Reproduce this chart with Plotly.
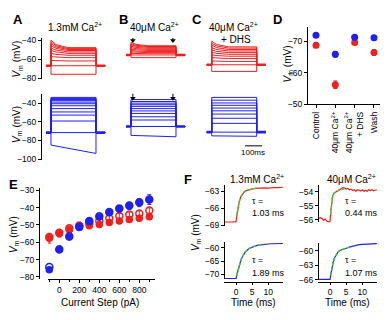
import plotly.graph_objects as go

W, H = 390, 320
RED = "#ee2020"
BLUE = "#2020ee"
GREEN = "#4cc83c"
FONT = "Liberation Sans, Arial, sans-serif"

# ---------------- Panels A-C : voltage responses (mV) to current steps ----------------
A_RED_HOLD = -67.0
A_RED_PEAK = [-76, -67, -61.5, -57.5, -54.0, -51.0, -48.5, -46.0, -44.0, -42.0, -40.0]
A_RED_MID = [-76, -67, -61.8, -58.0, -55.0, -52.5, -50.5, -48.8, -47.3, -46.0, -44.8]
A_RED_END = [-76, -67, -62.0, -58.5, -56.0, -54.0, -52.5, -51.0, -50.0, -49.0, -48.0]

B_RED_HOLD = -55.7
B_RED_PEAK = [-58.5, -55.7, -54.0, -52.5, -51.0, -49.5, -48.0, -46.5, -45.0, -44.0, -42.5]
B_RED_MID = [-58.5, -55.7, -54.2, -52.9, -51.6, -50.3, -49.0, -47.8, -46.6, -45.6, -44.6]
B_RED_END = [-58.5, -55.7, -54.4, -53.2, -52.0, -50.9, -49.8, -48.7, -47.7, -46.8, -46.0]

C_RED_HOLD = -66.0
C_RED_PEAK = [-73, -66, -62.0, -58.5, -55.5, -53.0, -50.5, -48.0, -45.5, -43.5, -41.3]
C_RED_MID = [-73, -66, -62.2, -59.0, -56.3, -54.0, -52.0, -50.0, -48.0, -46.2, -44.7]
C_RED_END = [-73, -66, -62.5, -59.5, -57.0, -55.0, -53.2, -51.5, -50.0, -48.5, -47.2]

A_BLUE_HOLD = -71.5
A_BLUE_ON = [-85, -71.5, -59.0, -52.6, -49.2, -45.6, -42.5, -40.3, -38.6, -37.0, -35.8, -34.6, -33.5]
A_BLUE_END = [-94, -71.5, -59.0, -52.6, -49.2, -45.6, -42.5, -40.3, -38.6, -37.0, -35.8, -34.6, -33.5]

B_BLUE_HOLD = -64.9
B_BLUE_ON = [-74.5, -64.9, -57.9, -54.4, -50.8, -48.1, -45.6, -43.2, -41.4, -39.7, -37.9, -35.8]
B_BLUE_END = [-76.0, -64.9, -57.9, -54.4, -50.8, -48.1, -45.6, -43.2, -41.4, -39.7, -37.9, -35.8]

C_BLUE_HOLD = -71.0
C_BLUE_ON = [-75.0, -71.0, -61.5, -56.0, -51.5, -48.0, -45.0, -42.0, -39.5, -36.5, -33.5]
C_BLUE_END = [-75.5, -71.0, -61.5, -56.0, -51.5, -48.0, -45.0, -42.0, -39.5, -36.5, -33.5]

T_ON, T_MID, T_SETTLE, T_OFF, T_END = 30, 60, 130, 295, 350  # protocol times (ms)

# ---------------- Panel D ----------------
D_LABELS = ["Control", "40μm Ca<sup>2+</sup>", "40μm Ca<sup>2+</sup><br>+ DHS", "Wash"]
D_BLUE = [-71.8, -65.8, -71.2, -71.0]
D_BLUE_ERR = [0.4, 0.9, 0.4, 0.4]
D_RED = [-68.7, -56.2, -69.5, -66.4]
D_RED_ERR = [0.8, 1.2, 0.5, 0.9]

# ---------------- Panel E ----------------
E_CURRENT = [-100, 0, 100, 200, 300, 400, 500, 600, 700, 800, 900]
E_BLUE = [-75.9, -64.3, -57.0, -51.5, -48.1, -45.4, -42.8, -40.7, -39.0, -37.2, -35.4]
E_BLUE_ERR = [1.2, 0.8, 1.0, 1.2, 1.3, 1.4, 1.5, 1.7, 2.0, 2.3, 2.8]
E_BLUE_OPEN = [-74.2, -64.0, -56.5, -51.0, -47.8, -45.0, -42.5, -40.5, -38.8, -37.0, -35.3]
E_RED = [-57.7, -55.0, -52.8, -51.0, -50.5, -49.8, -48.6, -47.7, -46.9, -46.1, -45.3]
E_RED_ERR = [2.8, 2.0, 1.8, 1.6, 1.5, 1.5, 1.5, 1.5, 1.5, 1.6, 1.6]
E_RED_OPEN = [-57.0, -54.5, -52.0, -50.3, -49.0, -47.7, -46.2, -44.9, -44.0, -43.4, -41.7]
E_RED_OPEN_ERR = [1.5, 1.5, 1.4, 1.4, 1.4, 1.4, 1.4, 1.4, 1.4, 1.5, 1.5]

# ---------------- Panel F ----------------
F_TL_T = [-3.7, -3, -2, -1, 0, 0.3, 0.6, 1, 1.5, 2, 2.5, 3, 4, 5, 6, 7, 8, 9, 10, 11, 12, 13, 14.5]
F_TL_V = [-68.4, -68.45, -68.4, -68.4, -68.35, -67.0, -65.9, -64.8, -63.9, -63.4, -63.1, -62.9,
          -62.7, -62.55, -62.45, -62.4, -62.4, -62.35, -62.4, -62.3, -62.3, -62.3, -62.25]
F_TL_FIT_T = [0.2, 0.6, 1, 1.5, 2, 2.5, 3, 4, 5, 6, 7]
F_TL_FIT_V = [-67.4, -65.9, -64.8, -63.9, -63.4, -63.1, -62.9, -62.7, -62.55, -62.45, -62.4]

F_TR_T = [-3.7, -3, -2.5, -2, -1.5, -1, -0.5, 0, 0.3, 0.5, 0.8, 1.2, 1.6, 2, 2.5, 3, 3.5, 4, 4.5,
          5, 5.5, 6, 6.5, 7, 7.5, 8, 8.5, 9, 9.5, 10, 10.5, 11, 11.5, 12, 12.5, 13, 13.5, 14, 14.5]
F_TR_V = [-55.95, -55.85, -55.9, -56.05, -55.95, -56.1, -56.15, -56.15, -55.3, -54.7, -54.3, -54.1,
          -54.05, -53.95, -53.9, -53.85, -53.75, -53.7, -53.72, -53.8, -53.75, -53.85, -53.8, -53.9,
          -53.85, -53.95, -53.85, -53.9, -53.95, -53.85, -53.95, -53.9, -53.95, -53.85, -53.9,
          -53.85, -53.92, -53.88, -53.85]
F_TR_FIT_T = [0.2, 0.5, 0.8, 1.2, 1.6, 2, 2.5, 3, 3.5, 4, 4.5]
F_TR_FIT_V = [-55.6, -54.7, -54.3, -54.1, -54.0, -53.95, -53.9, -53.85, -53.8, -53.8, -53.8]

F_BL_T = [-3.7, -3, -2, -1, 0, 0.3, 0.6, 1, 1.5, 2, 2.5, 3, 4, 5, 6, 7, 8, 9, 10, 11, 12, 13, 14.5]
F_BL_V = [-71.6, -71.6, -71.6, -71.6, -71.6, -70.0, -68.4, -66.6, -64.7, -63.3, -62.2, -61.4,
          -60.3, -59.7, -59.3, -59.0, -58.8, -58.7, -58.6, -58.5, -58.45, -58.4, -58.4]
F_BL_FIT_T = [0.2, 0.6, 1, 1.5, 2, 2.5, 3, 4, 5, 6, 7, 8]
F_BL_FIT_V = [-70.5, -68.4, -66.6, -64.7, -63.3, -62.2, -61.4, -60.3, -59.7, -59.3, -59.0, -58.8]

F_BR_T = [-3.7, -3, -2, -1, 0, 0.3, 0.6, 1, 1.5, 2, 2.5, 3, 4, 5, 6, 7, 8, 9, 10, 11, 12, 13, 14.5]
F_BR_V = [-65.9, -65.9, -65.85, -65.9, -65.9, -64.7, -63.4, -62.3, -61.3, -60.6, -60.2, -59.9,
          -59.6, -59.45, -59.2, -59.0, -58.8, -58.7, -58.65, -58.6, -58.55, -58.5, -58.5]
F_BR_FIT_T = [0.2, 0.6, 1, 1.5, 2, 2.5, 3, 4, 5, 6]
F_BR_FIT_V = [-65.1, -63.4, -62.3, -61.3, -60.6, -60.2, -59.9, -59.6, -59.45, -59.2]


# ---------------- helpers ----------------
def xd(a, b):
    return [a / W, b / W]


def yd(top, bottom):
    return [1 - bottom / H, 1 - top / H]


def red_sweeps(hold, peak, mid, end):
    xs, ys = [], []
    for p, m, e in zip(peak, mid, end):
        xs += [0, T_ON, T_ON, T_MID, T_SETTLE, T_OFF, T_OFF, T_END, None]
        ys += [hold, hold, p, m, e, e, hold, hold, None]
    return xs, ys


def blue_sweeps(hold, on, end):
    xs, ys = [], []
    for o, e in zip(on, end):
        xs += [0, T_ON, T_ON, T_OFF, T_OFF, T_END, None]
        ys += [hold, hold, o, e, hold, hold, None]
    return xs, ys


def hold_stub(hold):
    return [0, T_ON, None, T_OFF, T_END], [hold, hold, None, hold, hold]


fig = go.Figure()

panels = [
    ("x", "y", RED, red_sweeps(A_RED_HOLD, A_RED_PEAK, A_RED_MID, A_RED_END), hold_stub(A_RED_HOLD)),
    ("x2", "y2", BLUE, blue_sweeps(A_BLUE_HOLD, A_BLUE_ON, A_BLUE_END), hold_stub(A_BLUE_HOLD)),
    ("x3", "y3", RED, red_sweeps(B_RED_HOLD, B_RED_PEAK, B_RED_MID, B_RED_END), hold_stub(B_RED_HOLD)),
    ("x4", "y4", BLUE, blue_sweeps(B_BLUE_HOLD, B_BLUE_ON, B_BLUE_END), hold_stub(B_BLUE_HOLD)),
    ("x5", "y5", RED, red_sweeps(C_RED_HOLD, C_RED_PEAK, C_RED_MID, C_RED_END), hold_stub(C_RED_HOLD)),
    ("x6", "y6", BLUE, blue_sweeps(C_BLUE_HOLD, C_BLUE_ON, C_BLUE_END), hold_stub(C_BLUE_HOLD)),
]
for xa, ya, col, (sx, sy), (hx, hy) in panels:
    fig.add_trace(go.Scatter(x=sx, y=sy, mode="lines", line=dict(color=col, width=1),
                             xaxis=xa, yaxis=ya, hoverinfo="skip"))
    fig.add_trace(go.Scatter(x=hx, y=hy, mode="lines", line=dict(color=col, width=2.6),
                             xaxis=xa, yaxis=ya, hoverinfo="skip"))

# arrows in panel B (marker + short stem), stems in axis units
ARROW_T = [41, 277]
for xa, ya, tip, stem in [("x3", "y3", -40.6, 5.5), ("x4", "y4", -34.4, 5.5)]:
    sx, sy = [], []
    for t in ARROW_T:
        sx += [t, t, None]
        sy += [tip, tip + stem, None]
    fig.add_trace(go.Scatter(x=sx, y=sy, mode="lines", line=dict(color="black", width=1),
                             xaxis=xa, yaxis=ya, hoverinfo="skip"))
    fig.add_trace(go.Scatter(x=ARROW_T, y=[tip, tip], mode="markers", cliponaxis=False,
                             marker=dict(symbol="triangle-down", size=5, color="black"),
                             xaxis=xa, yaxis=ya, hoverinfo="skip"))

# Panel D
D_X = list(range(len(D_LABELS)))
fig.add_trace(go.Scatter(x=D_X, y=D_RED, mode="markers", xaxis="x7", yaxis="y7", cliponaxis=False,
                         marker=dict(color=RED, size=7),
                         error_y=dict(type="data", array=D_RED_ERR, color=RED, thickness=1, width=2)))
fig.add_trace(go.Scatter(x=D_X, y=D_BLUE, mode="markers", xaxis="x7", yaxis="y7", cliponaxis=False,
                         marker=dict(color=BLUE, size=7),
                         error_y=dict(type="data", array=D_BLUE_ERR, color=BLUE, thickness=1, width=2)))

# Panel E
fig.add_trace(go.Scatter(x=E_CURRENT, y=E_RED_OPEN, mode="markers", xaxis="x8", yaxis="y8", cliponaxis=False,
                         marker=dict(symbol="circle-open", color=RED, size=7, line=dict(width=1.5)),
                         error_y=dict(type="data", array=E_RED_OPEN_ERR, color=RED, thickness=1, width=2)))
fig.add_trace(go.Scatter(x=E_CURRENT, y=E_RED, mode="markers", xaxis="x8", yaxis="y8", cliponaxis=False,
                         marker=dict(color=RED, size=7.5),
                         error_y=dict(type="data", array=E_RED_ERR, color=RED, thickness=1, width=2)))
fig.add_trace(go.Scatter(x=E_CURRENT, y=E_BLUE_OPEN, mode="markers", xaxis="x8", yaxis="y8", cliponaxis=False,
                         marker=dict(symbol="circle-open", color=BLUE, size=7, line=dict(width=1.5))))
fig.add_trace(go.Scatter(x=E_CURRENT, y=E_BLUE, mode="markers", xaxis="x8", yaxis="y8", cliponaxis=False,
                         marker=dict(color=BLUE, size=7.5),
                         error_y=dict(type="data", array=E_BLUE_ERR, color=BLUE, thickness=1, width=2)))

# Panel F
for xa, ya, col, t, v, ft, fv in [
    ("x9", "y9", RED, F_TL_T, F_TL_V, F_TL_FIT_T, F_TL_FIT_V),
    ("x10", "y10", RED, F_TR_T, F_TR_V, F_TR_FIT_T, F_TR_FIT_V),
    ("x11", "y11", BLUE, F_BL_T, F_BL_V, F_BL_FIT_T, F_BL_FIT_V),
    ("x12", "y12", BLUE, F_BR_T, F_BR_V, F_BR_FIT_T, F_BR_FIT_V),
]:
    fig.add_trace(go.Scatter(x=t, y=v, mode="lines", line=dict(color=col, width=1.2),
                             xaxis=xa, yaxis=ya, hoverinfo="skip"))
    fig.add_trace(go.Scatter(x=ft, y=fv, mode="lines", line=dict(color=GREEN, width=1.5, dash="3px,2px"),
                             xaxis=xa, yaxis=ya, hoverinfo="skip"))

TICKFONT = dict(size=8.5, family=FONT, color="black")


def vis_axis(**kw):
    d = dict(showline=True, linecolor="black", linewidth=1, ticks="outside", ticklen=3, tickwidth=1,
             tickcolor="black", tickfont=TICKFONT, showgrid=False, zeroline=False, fixedrange=True)
    d.update(kw)
    return d


def hid_axis(**kw):
    d = dict(visible=False, showgrid=False, zeroline=False, fixedrange=True)
    d.update(kw)
    return d


MS_PX = 0.1698  # px per ms for traces


def trace_xdom(step_px):
    left = step_px - T_ON * MS_PX
    return xd(left, left + T_END * MS_PX)


TOP_RANGE = [-80.51, -37.95]
BOT_RANGE = [-101.05, -29.47]
TOP_DOM = yd(36, 77.5)
BOT_DOM = yd(93, 161)
F_XR = [-3.72, 14.55]
F_XPOS = 1 - 286 / H

layout = dict(
    width=W, height=H, margin=dict(l=0, r=0, t=0, b=0),
    paper_bgcolor="white", plot_bgcolor="rgba(0,0,0,0)", showlegend=False,
    font=dict(family=FONT, color="black"),
    xaxis=hid_axis(domain=trace_xdom(51), range=[0, T_END], anchor="y"),
    yaxis=vis_axis(domain=TOP_DOM, range=TOP_RANGE, anchor="free", position=41 / W, tickvals=[-40, -60, -80]),
    xaxis2=hid_axis(domain=trace_xdom(51), range=[0, T_END], anchor="y2"),
    yaxis2=vis_axis(domain=BOT_DOM, range=BOT_RANGE, anchor="free", position=41 / W,
                    tickvals=[-40, -60, -80, -100]),
    xaxis3=hid_axis(domain=trace_xdom(131), range=[0, T_END], anchor="y3"),
    yaxis3=hid_axis(domain=TOP_DOM, range=TOP_RANGE, anchor="x3"),
    xaxis4=hid_axis(domain=trace_xdom(131), range=[0, T_END], anchor="y4"),
    yaxis4=hid_axis(domain=BOT_DOM, range=BOT_RANGE, anchor="x4"),
    xaxis5=hid_axis(domain=trace_xdom(211.7), range=[0, T_END], anchor="y5"),
    yaxis5=hid_axis(domain=TOP_DOM, range=TOP_RANGE, anchor="x5"),
    xaxis6=hid_axis(domain=trace_xdom(211.7), range=[0, T_END], anchor="y6"),
    yaxis6=hid_axis(domain=BOT_DOM, range=BOT_RANGE, anchor="x6"),
    xaxis7=vis_axis(domain=xd(308, 380), range=[-0.414, 3.311], anchor="y7", tickvals=D_X,
                    ticktext=D_LABELS, tickangle=-90),
    yaxis7=vis_axis(domain=yd(25, 104), range=[-50, -74.31], anchor="x7", tickvals=[-70, -60, -50]),
    xaxis8=vis_axis(domain=xd(48, 155), range=[-113, 957], anchor="y8", tickvals=[0, 200, 400, 600, 800],
                    minor=dict(ticks="outside", ticklen=2, tickcolor="black", dtick=100, tick0=0)),
    yaxis8=vis_axis(domain=yd(190, 283), range=[-81.13, -28.88], anchor="free", position=39 / W,
                    tickvals=[-30, -40, -50, -60, -70, -80]),
    xaxis9=hid_axis(domain=xd(224, 283), range=F_XR, anchor="y9"),
    yaxis9=vis_axis(domain=yd(187, 229), range=[-69.16, -61.91], anchor="free", position=224 / W,
                    tickvals=[-63, -66, -69]),
    xaxis10=hid_axis(domain=xd(318, 377), range=F_XR, anchor="y10"),
    yaxis10=vis_axis(domain=yd(187, 225), range=[-56.19, -53.53], anchor="free", position=318 / W,
                     tickvals=[-54, -55, -56]),
    xaxis11=vis_axis(domain=xd(224, 283), range=F_XR, anchor="free", position=F_XPOS, tickvals=[0, 5, 10],
                     ticklen=2),
    yaxis11=vis_axis(domain=yd(245, 283), range=[-71.72, -57.80], anchor="free", position=224 / W,
                     tickvals=[-60, -65, -70]),
    xaxis12=vis_axis(domain=xd(318, 377), range=F_XR, anchor="free", position=F_XPOS, tickvals=[0, 5, 10],
                     ticklen=2),
    yaxis12=vis_axis(domain=yd(246, 284), range=[-66.03, -58.32], anchor="free", position=318 / W,
                     tickvals=[-60, -63, -66]),
)
fig.update_layout(**layout)


def ann(text, x, y, size=10, bold=False, angle=0, xanchor="center", yanchor="middle"):
    if bold:
        text = "<b>" + text + "</b>"
    fig.add_annotation(text=text, x=x / W, y=1 - y / H, xref="paper", yref="paper", showarrow=False,
                       font=dict(size=size, family=FONT, color="black"), textangle=angle,
                       xanchor=xanchor, yanchor=yanchor)


VM = "<i>V</i><sub>m</sub> (mV)"
# panel letters
for letter, x, y in [("A", 18, 17), ("B", 123, 17), ("C", 197, 17), ("D", 277, 17), ("E", 13, 186), ("F", 188, 181)]:
    ann(letter, x, y, size=13, bold=True)
# titles
ann("1.3mM Ca<sup>2+</sup>", 75, 25, size=10)
ann("40μM Ca<sup>2+</sup>", 154, 25, size=10)
ann("40μM Ca<sup>2+</sup>", 233, 25, size=10)
ann("+ DHS", 236, 37, size=10)
ann("1.3mM Ca<sup>2+</sup>", 257, 180, size=10)
ann("40μM Ca<sup>2+</sup>", 351, 180, size=10)
# axis titles
ann(VM, 17, 58, size=10, angle=-90)
ann(VM, 17, 125, size=10, angle=-90)
ann(VM, 288, 63, size=10, angle=-90)
ann(VM, 14, 237, size=10, angle=-90)
ann(VM, 196, 236, size=10, angle=-90)
ann("Current Step (pA)", 100, 307, size=10)
ann("Time (ms)", 253, 307, size=10)
ann("Time (ms)", 347, 307, size=10)
# tau labels
for lines, x, y0 in [(("τ =", "1.03 ms"), 250, 203), (("τ =", "0.44 ms"), 343, 203),
                     (("τ =", "1.89 ms"), 250, 264), (("τ =", "1.07 ms"), 343, 264)]:
    ann(lines[0], x, y0, size=9, xanchor="left")
    ann(lines[1], x, y0 + 12.5, size=9, xanchor="left")

# scale bar (100 ms) under panel C
SCALE_MS = 100
fig.add_shape(type="line", xref="x5", yref="paper", x0=226, x1=226 + SCALE_MS,
              y0=1 - 146.5 / H, y1=1 - 146.5 / H, line=dict(color="black", width=1))
fig.add_annotation(text="100ms", xref="x5", yref="paper", x=226 + SCALE_MS / 2, y=1 - 153.5 / H,
                   showarrow=False, font=dict(size=8, family=FONT, color="black"))

fig.write_html("out.html")
